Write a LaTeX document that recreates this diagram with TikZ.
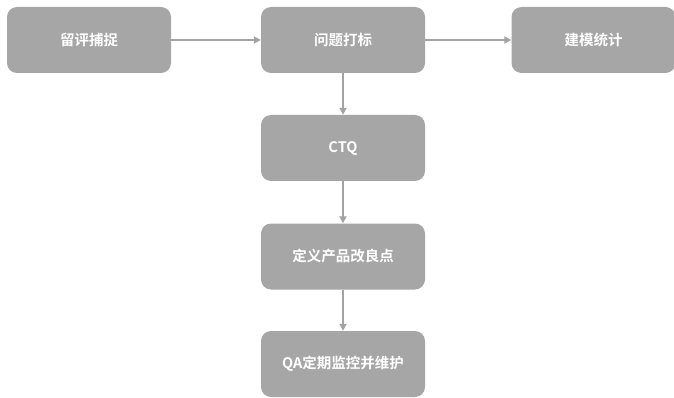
\documentclass[tikz,border=0pt]{standalone}
\usepackage{fontspec}
\newfontfamily\cjk{Noto Sans CJK SC}[BoldFont={Noto Sans CJK SC Bold}]
\usetikzlibrary{arrows.meta}
\definecolor{boxgray}{HTML}{A6A6A6}
\definecolor{linegray}{HTML}{A3A3A3}
\tikzset{
  stepbox/.style={draw=none, fill=boxgray, rounded corners=10pt, minimum width=164pt, minimum height=66pt, inner sep=0pt, text=white, font=\cjk\bfseries\fontsize{14.5pt}{16pt}\selectfont},
  conn/.style={draw=linegray, line width=2pt, -{Triangle[length=7pt,width=7pt]}}
}
\begin{document}
\begin{tikzpicture}[x=1pt,y=-1pt]
\useasboundingbox (0,0) rectangle (674,398);
\node[stepbox] (a) at (89,40) {留评捕捉};
\node[stepbox] (b) at (343,40) {问题打标};
\node[stepbox] (c) at (593.5,40) {建模统计};
\node[stepbox] (d) at (343,148) {CTQ};
\node[stepbox] (e) at (343,256.5) {定义产品改良点};
\node[stepbox] (f) at (343,364) {QA定期监控并维护};
\draw[conn] (a) -- (b);
\draw[conn] (b) -- (c);
\draw[conn] (b) -- (d);
\draw[conn] (d) -- (e);
\draw[conn] (e) -- (f);
\end{tikzpicture}
\end{document}
